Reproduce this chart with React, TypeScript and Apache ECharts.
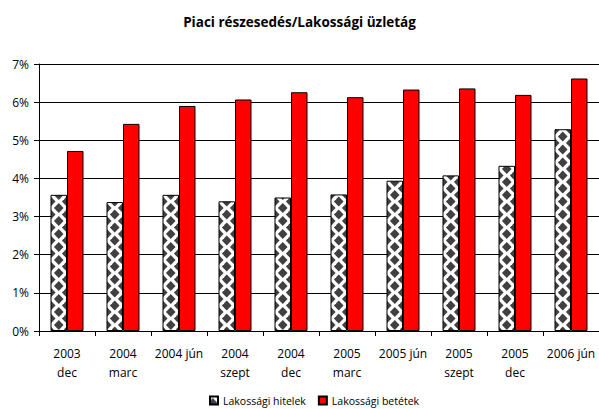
import React, { useEffect, useRef } from "react";
import * as echarts from "echarts";

const title = "Piaci részesedés/Lakossági üzletág";
const categories = [
  "2003\ndec",
  "2004\nmarc",
  "2004 jún",
  "2004\nszept",
  "2004\ndec",
  "2005\nmarc",
  "2005 jún",
  "2005\nszept",
  "2005\ndec",
  "2006 jún",
];
const seriesNames = ["Lakossági hitelek", "Lakossági betétek"];
const hitelek = [3.57, 3.38, 3.57, 3.4, 3.5, 3.58, 3.94, 4.08, 4.33, 5.29];
const betetek = [4.72, 5.43, 5.9, 6.07, 6.26, 6.13, 6.33, 6.36, 6.19, 6.62];
const yMin = 0;
const yMax = 7;
const yInterval = 1;

const FONT = "'Open Sans', 'DejaVu Sans', sans-serif";

function makePattern(): HTMLCanvasElement {
  const c = document.createElement("canvas");
  const w = 16;
  const h = 13;
  c.width = w;
  c.height = h;
  const ctx = c.getContext("2d")!;
  ctx.fillStyle = "#ffffff";
  ctx.fillRect(0, 0, w, h);
  ctx.fillStyle = "#404040";
  const centers = [
    [10.75, 0],
    [2.75, 6.5],
  ];
  const hw = 4.8;
  const hh = 5;
  for (const [cx, cy] of centers) {
    for (const dx of [-w, 0, w]) {
      for (const dy of [-h, 0, h]) {
        const x = cx + dx;
        const y = cy + dy;
        ctx.beginPath();
        ctx.moveTo(x, y - hh);
        ctx.lineTo(x + hw, y);
        ctx.lineTo(x, y + hh);
        ctx.lineTo(x - hw, y);
        ctx.closePath();
        ctx.fill();
      }
    }
  }
  return c;
}

export default function App() {
  const ref = useRef<HTMLDivElement>(null);
  useEffect(() => {
    if (!ref.current) return;
    const chart = echarts.init(ref.current, null, { renderer: "svg" });
    const pattern = makePattern();
    chart.setOption({
      animation: false,
      backgroundColor: "#ffffff",
      title: {
        text: title,
        left: "center",
        top: 10,
        textStyle: {
          fontFamily: FONT,
          fontWeight: "bold",
          fontSize: 13.5,
          color: "#000",
        },
      },
      legend: {
        left: 204,
        top: 390,
        itemWidth: 8,
        itemHeight: 8,
        itemGap: 12,
        icon: "rect",
        textStyle: { fontFamily: FONT, fontSize: 10.5, color: "#000" },
        data: seriesNames,
      },
      grid: { left: 39, right: 0, top: 64, bottom: 78 },
      xAxis: {
        type: "category",
        data: categories,
        axisLine: { lineStyle: { color: "#000", width: 1 } },
        axisTick: { show: true, length: 5, inside: false, lineStyle: { color: "#000" } },
        axisLabel: {
          interval: 0,
          margin: 13,
          fontFamily: FONT,
          fontSize: 12,
          lineHeight: 19,
          color: "#000",
        },
      },
      yAxis: {
        type: "value",
        min: yMin,
        max: yMax,
        interval: yInterval,
        axisLine: { show: true, lineStyle: { color: "#000", width: 1 } },
        axisTick: { show: true, length: 5, lineStyle: { color: "#000" } },
        splitLine: { show: true, lineStyle: { color: "#000", width: 1 } },
        axisLabel: {
          formatter: "{value}%",
          margin: 10,
          fontFamily: FONT,
          fontSize: 12,
          color: "#000",
        },
      },
      series: [
        {
          name: seriesNames[0],
          type: "bar",
          data: hitelek,
          barWidth: 16.5,
          barGap: "0%",
          itemStyle: {
            color: { image: pattern, repeat: "repeat" },
            borderColor: "#000",
            borderWidth: 1,
          },
        },
        {
          name: seriesNames[1],
          type: "bar",
          data: betetek,
          barWidth: 16.5,
          barGap: "0%",
          itemStyle: { color: "#ff0000", borderColor: "#000", borderWidth: 1 },
        },
      ],
    });
    return () => chart.dispose();
  }, []);
  return (
    <div
      ref={ref}
      style={{ position: "fixed", left: 0, top: 0, width: 599, height: 409 }}
    />
  );
}
